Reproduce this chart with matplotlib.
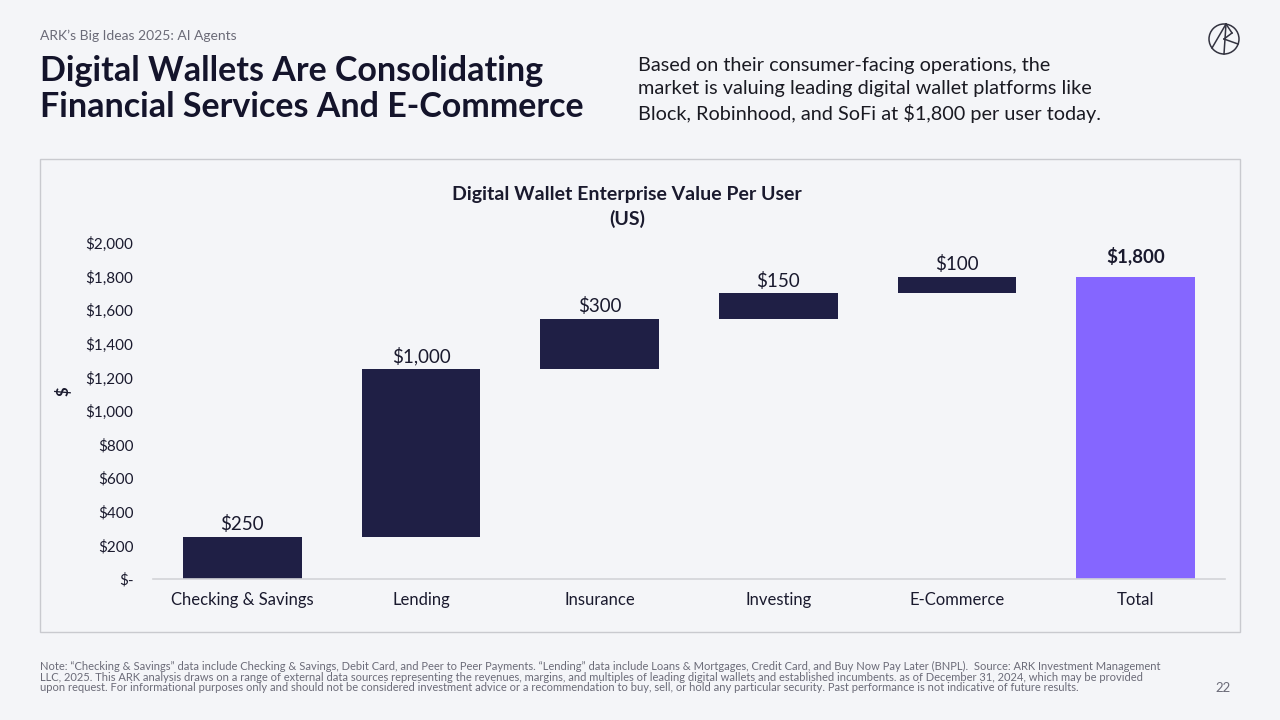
import matplotlib
matplotlib.use("Agg")
import matplotlib.pyplot as plt
from matplotlib.patches import Rectangle, Circle
from matplotlib.lines import Line2D

plt.rcParams['font.family'] = ['Lato', 'DejaVu Sans']

categories = ["Checking & Savings", "Lending", "Insurance", "Investing", "E-Commerce", "Total"]
values = [250, 1000, 300, 150, 100, 1800]
is_total = [False, False, False, False, False, True]
yticks = [0, 200, 400, 600, 800, 1000, 1200, 1400, 1600, 1800, 2000]

BG = "#f4f5f8"
NAVY = "#1f1f45"
PURPLE = "#8566ff"
TEXT = "#1a1a2e"

fig = plt.figure(figsize=(12.8, 7.2), dpi=100, facecolor=BG)

# header texts
fig.text(40/1280, 1-36/720, "ARK\u2019s Big Ideas 2025: AI Agents", fontsize=10, color="#6b6b78", va="center", ha="left")
fig.text(40/1280, 1-89/720, "Digital Wallets Are Consolidating\nFinancial Services And E-Commerce",
         fontsize=24.5, fontweight="bold", color="#14142b", va="center", ha="left", linespacing=1.18)
fig.text(638/1280, 1-90/720,
         "Based on their consumer-facing operations, the\nmarket is valuing leading digital wallet platforms like\nBlock, Robinhood, and SoFi at $1,800 per user today.",
         fontsize=14.3, color="#1a1a22", va="center", ha="left", linespacing=1.42)

# logo
logo_ax = fig.add_axes([(1224-20)/1280, 1-(39+20)/720, 40/1280, 40/720])
logo_ax.set_xlim(-20, 20); logo_ax.set_ylim(-20, 20); logo_ax.axis("off")
logo_ax.add_patch(Circle((0, 0), 15, fill=False, lw=1.1, ec="#333340"))
for (x0, y0, x1, y1) in [(-12, -9, 2, 15), (2, 15, 0, -15), (2, 15, 8, 6), (8, 6, 0, 0), (0, 0, 14, -5)]:
    logo_ax.add_line(Line2D([x0, x1], [y0, y1], lw=1.1, color="#333340"))

# chart panel frame
fig.patches.append(Rectangle((40/1280, 1-632/720), 1200/1280, 473/720, transform=fig.transFigure,
                             fill=False, ec="#c9cacf", lw=1.0))

# chart title
fig.text(627/1280, 1-207/720, "Digital Wallet Enterprise Value Per User\n(US)", fontsize=14,
         fontweight="bold", color=TEXT, ha="center", va="center", linespacing=1.45)

# main axes
ax = fig.add_axes([153/1280, 1-579/720, 1072/1280, 336/720], facecolor=BG)
bottoms = []
run = 0
for v, t in zip(values, is_total):
    if t:
        bottoms.append(0)
    else:
        bottoms.append(run)
        run += v
colors = [PURPLE if t else NAVY for t in is_total]
x = list(range(len(categories)))
ax.bar(x, values, bottom=bottoms, width=0.665, color=colors)
for xi, v, b, t in zip(x, values, bottoms, is_total):
    ax.text(xi, b + v + (70 if t else 22), f"${v:,}", ha="center", va="bottom", fontsize=13.5,
            fontweight="bold" if t else "normal", color=TEXT)

ax.set_xlim(-0.5, len(categories) - 0.5)
ax.set_ylim(0, 2000)
ax.set_yticks(yticks)
ax.set_yticklabels(["$-" if v == 0 else f"${v:,}" for v in yticks])
ax.set_xticks(x)
ax.set_xticklabels(categories)
ax.tick_params(axis="both", length=0, colors=TEXT)
ax.tick_params(axis="y", pad=14, labelsize=11)
ax.tick_params(axis="x", pad=19, labelsize=12)
for lbl in ax.get_xticklabels():
    lbl.set_va("baseline")
for s in ["top", "right", "left"]:
    ax.spines[s].set_visible(False)
ax.spines["bottom"].set_color("#d3d4d8")
ax.spines["bottom"].set_linewidth(1.2)
ax.set_ylabel("$", fontsize=12, fontweight="bold", color=TEXT)
ax.yaxis.set_label_coords(-0.076, 0.56)

# footnote
fig.text(40/1280, 1-677/720,
         "Note: \u201cChecking & Savings\u201d data include Checking & Savings, Debit Card, and Peer to Peer Payments. \u201cLending\u201d data include Loans & Mortgages, Credit Card, and Buy Now Pay Later (BNPL).  Source: ARK Investment Management\n"
         "LLC, 2025. This ARK analysis draws on a range of external data sources representing the revenues, margins, and multiples of leading digital wallets and established incumbents. as of December 31, 2024, which may be provided\n"
         "upon request. For informational purposes only and should not be considered investment advice or a recommendation to buy, sell, or hold any particular security. Past performance is not indicative of future results.",
         fontsize=8, color="#6b6b78", va="center", ha="left", linespacing=0.95)
fig.text(1223/1280, 1-688/720, "22", fontsize=9.5, color="#6b6b78", va="center", ha="center")

fig.savefig("out.png", dpi=100, facecolor=BG)
